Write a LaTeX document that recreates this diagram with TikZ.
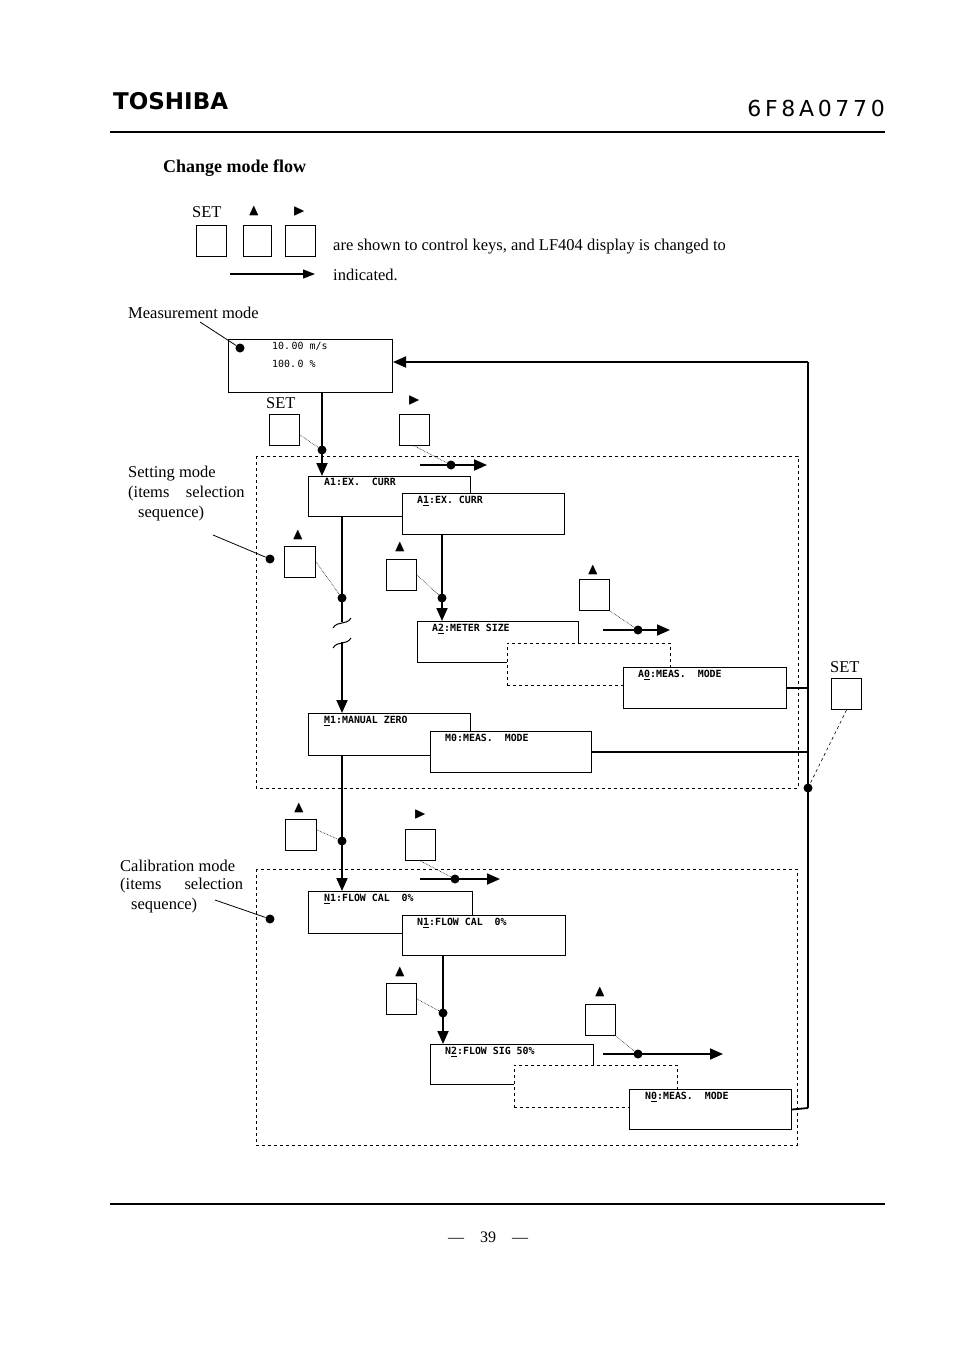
\documentclass[tikz,border=0pt]{standalone}
\usepackage{amssymb}
\usepackage{fontspec}
\setmainfont{Liberation Serif}
\newfontfamily\dispfont{DejaVu Sans Mono}[Scale=0.9]
\newfontfamily\hdsans{DejaVu Sans}
\usetikzlibrary{arrows.meta}
\begin{document}
\begin{tikzpicture}[x=1pt,y=-1pt,
  flow/.style={line width=1.8pt,-{Triangle[length=13pt,width=11pt]}},
  thickl/.style={line width=1.8pt},
  disp/.style={draw,line width=1pt,fill=white,anchor=north west,inner sep=0pt},
  dtext/.style={anchor=north west,font=\dispfont\fontsize{11}{13}\selectfont\bfseries,inner sep=0pt},
  key/.style={draw,line width=1pt,anchor=north west,inner sep=0pt,minimum width=30pt,minimum height=31pt},
  tri/.style={inner sep=0pt,font=\fontsize{16}{16}\selectfont},
  dot/.style={circle,fill=black,inner sep=0pt,minimum size=9pt},
  dashbox/.style={dashed,line width=0.8pt},
  hint/.style={densely dotted,line width=0.6pt},
  lab/.style={anchor=west,inner sep=0pt,font=\fontsize{16.5}{19}\selectfont}]
\useasboundingbox[fill=white] (0,0) rectangle (954,1351);
% header
\node[anchor=west,inner sep=0pt,font=\hdsans\bfseries\fontsize{23}{23}\selectfont] (toshiba) at (113,101) {TOSHIBA};
\node[anchor=east,inner sep=0pt,font=\hdsans\fontsize{22}{22}\selectfont] (docno) at (885,108) {6\,F\,8\,A\,0\,7\,7\,0};
\draw[line width=2.5pt] (110,132) -- (885,132);
\node[lab,font=\bfseries\fontsize{18}{20}\selectfont] (title) at (163,168) {Change mode flow};
% legend
\node[lab] (lset) at (192,212) {SET};
\node[tri] (lup) at (254,211) {$\blacktriangle$};
\node[tri] (lright) at (299,211) {$\blacktriangleright$};
\node[key] (lk1) at (196,225) {};
\node[key,minimum width=28pt] (lk2) at (243,225) {};
\node[key] (lk3) at (285,225) {};
\node[lab] (ltext) at (333,247) {are shown to control keys, and LF404 display is changed to};
\coordinate (la1) at (230,274); \coordinate (la2) at (315,274);
\draw[line width=1.3pt,-{Triangle[length=12pt,width=9pt]}] (la1) -- (la2);
\node[lab] (ltext2) at (333,275) {indicated.};
% measurement
\node[lab] (mlab) at (128,313) {Measurement mode};
\node[disp,minimum width=164pt,minimum height=53pt] (meas) at (228,339) {};
\node[dtext,font=\dispfont\fontsize{11}{13}\selectfont] (mt1) at (272,342) {10.\,00 m/s};
\node[dtext,font=\dispfont\fontsize{11}{13}\selectfont] (mt2) at (272,360) {100.\,0 \%};
\node[dot] (mdot) at (240,348) {};
\draw[line width=0.8pt] (200,322) -- (mdot);
% right bus
\coordinate (bus1) at (808,362);
\coordinate (bus2) at (808,1108);
\draw[thickl] (bus2) -- (bus1);
\draw[flow] (bus1) -- (meas.east |- bus1);
% SET to A1
\node[lab] (set1) at (266,403) {SET};
\node[key] (k1) at (269,414) {};
\node[dot] (d1) at (322,450) {};
\draw[hint] (k1.east) ++(0,5) -- (d1);
% setting box
\draw[dashbox] (256,456) rectangle (798,788);
\node[lab] (s1) at (128,474) {Setting mode};
\node[lab] (s2) at (128,494) {(items\hspace{1em}selection};
\node[lab] (s3) at (138,514) {sequence)};
\node[dot] (sdot) at (270,559) {};
\draw[line width=0.8pt] (213,535) -- (sdot);
% A1
\node[disp,minimum width=162pt,minimum height=40pt] (a1) at (308,476) {};
\node[dtext] (a1t) at (324,478) {A1:EX.\ \ CURR};
\draw[flow] (meas.south -| d1) -- (a1.north -| d1);
\node[tri] (r1) at (414,400) {$\blacktriangleright$};
\node[key] (k2) at (399,414) {};
\node[dot] (d2) at (451,465) {};
\draw[hint] (k2.south) ++(0,0) -- (d2);
\coordinate (r1a) at (420,465); \coordinate (r1b) at (487,465);
\draw[flow] (r1a) -- (r1b);
\node[disp,minimum width=162pt,minimum height=41pt] (a1b) at (402,493) {};
\node[dtext] (a1bt) at (417,496) {A\underline{1}:EX.\ CURR};
% left chain A1 -> M1
\node[tri] (u1) at (298,535) {$\blacktriangle$};
\node[key,minimum width=31pt] (k3) at (284,546) {};
\node[dot] (d3) at (342,598) {};
\draw[hint] (k3.east) -- (d3);
\node[disp,minimum width=162pt,minimum height=42pt] (m1) at (308,713) {};
\node[dtext] (m1t) at (324,716) {\underline{M}1:MANUAL ZERO};
\coordinate (br1) at (342,622); \coordinate (br2) at (342,642);
\draw[thickl] (a1.south -| d3) -- (br1);
\draw[flow] (br2) -- (m1.north -| d3);
\draw[line width=1pt] (333,628) .. controls (338,620) and (346,626) .. (351,618);
\draw[line width=1pt] (333,648) .. controls (338,640) and (346,646) .. (351,638);
% A1' -> A2
\node[tri] (u2) at (400,547) {$\blacktriangle$};
\node[key] (k4) at (386,559) {};
\node[dot] (d4) at (442,598) {};
\draw[hint] (k4.east) -- (d4);
\node[disp,minimum width=161pt,minimum height=41pt] (a2) at (417,621) {};
\node[dtext] (a2t) at (432,624) {A\underline{2}:METER SIZE};
\draw[flow] (a1b.south -| d4) -- (a2.north -| d4);
\node[disp,dashed,line width=0.8pt,minimum width=163pt,minimum height=42pt] (ad) at (507,643) {};
\node[tri] (u3) at (593,570) {$\blacktriangle$};
\node[key] (k5) at (579,579) {};
\node[dot] (d5) at (638,630) {};
\draw[hint] (k5.south east) -- (d5);
\coordinate (r3a) at (603,630); \coordinate (r3b) at (670,630);
\draw[flow] (r3a) -- (r3b);
\node[disp,minimum width=163pt,minimum height=41pt] (a0) at (623,667) {};
\node[dtext] (a0t) at (638,670) {A\underline{0}:MEAS.\ \ MODE};
\draw[thickl] (a0.east) -- (a0.east -| bus1);
% M0
\node[disp,minimum width=161pt,minimum height=41pt] (m0) at (430,731) {};
\node[dtext] (m0t) at (445,734) {M0:MEAS.\ \ MODE};
\draw[line width=1.2pt] (m0.east) -- (m0.east -| bus1);
% SET right
\node[lab] (set2) at (830,667) {SET};
\node[key] (k6) at (831,678) {};
\node[dot] (d6) at (808,788) {};
\draw[hint,dashed] (k6.south) -- (d6);
% M1 -> N1
\node[tri] (u4) at (299,808) {$\blacktriangle$};
\node[key,minimum width=31pt] (k7) at (285,819) {};
\node[dot] (d7) at (342,841) {};
\draw[hint] (k7.east) ++(0,-5) -- (d7);
\node[disp,minimum width=164pt,minimum height=42pt] (n1) at (308,891) {};
\node[dtext] (n1t) at (324,894) {\underline{N}1:FLOW CAL\ \ 0\%};
\draw[flow] (m1.south -| d7) -- (n1.north -| d7);
\node[tri] (r2) at (420,814) {$\blacktriangleright$};
\node[key] (k8) at (405,829) {};
\node[dot] (d8) at (455,879) {};
\draw[hint] (k8.south) -- (d8);
\coordinate (r2a) at (420,879); \coordinate (r2b) at (500,879);
\draw[flow] (r2a) -- (r2b);
% calibration box
\draw[dashbox] (256,869) rectangle (797,1145);
\node[lab] (c1) at (120,866) {Calibration mode};
\node[lab] (c2) at (120,886) {(items\hspace{1.4em}selection};
\node[lab] (c3) at (131,906) {sequence)};
\node[dot] (cdot) at (270,919) {};
\draw[line width=0.8pt] (215,900) -- (cdot);
\node[disp,minimum width=163pt,minimum height=40pt] (n1b) at (402,915) {};
\node[dtext] (n1bt) at (417,918) {N\underline{1}:FLOW CAL\ \ 0\%};
% N1' -> N2
\node[tri] (u5) at (400,972) {$\blacktriangle$};
\node[key] (k9) at (386,983) {};
\node[dot] (d9) at (443,1013) {};
\draw[hint] (k9.east) -- (d9);
\node[disp,minimum width=163pt,minimum height=40pt] (n2) at (430,1044) {};
\node[dtext] (n2t) at (445,1047) {N\underline{2}:FLOW SIG 50\%};
\draw[flow] (n1b.south -| d9) -- (n2.north -| d9);
\node[disp,dashed,line width=0.8pt,minimum width=163pt,minimum height=42pt] (nd) at (514,1065) {};
\node[tri] (u6) at (600,992) {$\blacktriangle$};
\node[key] (k10) at (585,1004) {};
\node[dot] (d10) at (638,1054) {};
\draw[hint] (k10.south east) -- (d10);
\coordinate (r4a) at (603,1054); \coordinate (r4b) at (723,1054);
\draw[flow] (r4a) -- (r4b);
\node[disp,minimum width=162pt,minimum height=40pt] (n0) at (629,1089) {};
\node[dtext] (n0t) at (645,1092) {N\underline{0}:MEAS.\ \ MODE};
\draw[thickl] (n0.east) -- (bus2);
% footer
\draw[line width=2.5pt] (110,1204) -- (885,1204);
\node[inner sep=0pt,font=\fontsize{16}{16}\selectfont] (page) at (488,1237) {---\quad 39\quad ---};
\end{tikzpicture}
\end{document}
